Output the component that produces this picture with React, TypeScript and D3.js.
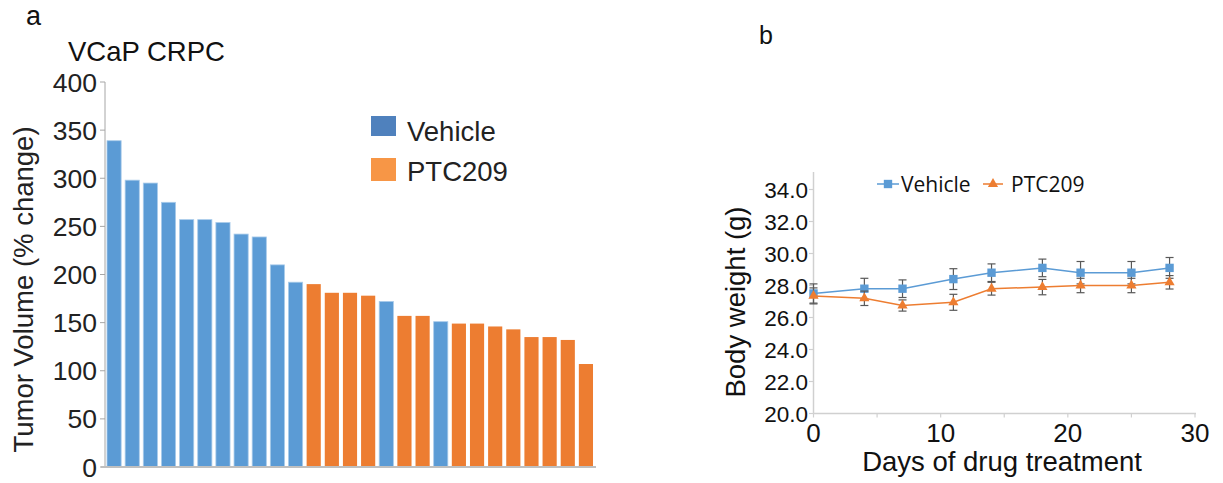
import * as d3 from 'd3'

// panel a: waterfall of tumour volume change, sorted
const tumorValues = [339, 298, 295, 275, 257, 257, 254, 242, 239, 210, 192, 190, 181, 181, 178, 172, 157, 157, 151, 149, 149, 146, 143, 135, 135, 132, 107]
const tumorGroups = ['V', 'V', 'V', 'V', 'V', 'V', 'V', 'V', 'V', 'V', 'V', 'P', 'P', 'P', 'P', 'V', 'P', 'P', 'V', 'P', 'P', 'P', 'P', 'P', 'P', 'P', 'P']
const tumorTicks = [0, 50, 100, 150, 200, 250, 300, 350, 400]

// panel b: body weight over days
const days = [0, 4, 7, 11, 14, 18, 21, 25, 28]
const vehicleWeight = [27.5, 27.8, 27.8, 28.4, 28.8, 29.1, 28.8, 28.8, 29.1]
const vehicleErr = [0.6, 0.65, 0.55, 0.65, 0.55, 0.55, 0.7, 0.7, 0.65]
const ptcWeight = [27.35, 27.2, 26.75, 26.95, 27.8, 27.9, 28.0, 28.0, 28.2]
const ptcErr = [0.5, 0.45, 0.35, 0.5, 0.4, 0.48, 0.45, 0.45, 0.42]
const weightTicks = [20, 22, 24, 26, 28, 30, 32, 34]
const dayTicks = [0, 10, 20, 30]
const dayMinor = [0, 5, 10, 15, 20, 25, 30]

const BLUE = '#5B9BD5'
const ORANGE = '#ED7D31'
const ARIAL = 'Liberation Sans, Arial, sans-serif'

function Waterfall() {
  const ids = tumorValues.map((_, i) => String(i))
  const x = d3.scaleBand().domain(ids).range([105, 595]).paddingInner(0.22).paddingOuter(0.11)
  const y = d3.scaleLinear().domain([0, 400]).range([467, 82])

  return (
    <g fontFamily={ARIAL}>
      <text x={26} y={25} fontSize={27} fill="#111">a</text>
      <text x={68} y={61} fontSize={27.5} fill="#111">VCaP CRPC</text>

      {tumorValues.map((v, i) => (
        <rect key={i} x={x(String(i))} y={y(v)} width={x.bandwidth()} height={y(0) - y(v)}
          fill={tumorGroups[i] === 'V' ? BLUE : ORANGE}
          stroke={tumorGroups[i] === 'V' ? '#A9CBEA' : 'none'} strokeWidth={0.8} />
      ))}

      {/* y axis */}
      <line x1={105} x2={105} y1={y(400)} y2={y(0)} stroke="#A6A6A6" strokeWidth={1} />
      {tumorTicks.map(t => (
        <g key={t}>
          <line x1={100} x2={105} y1={y(t)} y2={y(t)} stroke="#A6A6A6" />
          <text x={97} y={y(t)} dy="0.36em" textAnchor="end" fontSize={26.5} fill="#222">{t}</text>
        </g>
      ))}
      <line x1={101} x2={596} y1={y(0)} y2={y(0)} stroke="#BFBFBF" strokeWidth={2} />

      <text transform={`translate(33,${(y(0) + y(400)) / 2 + 15}) rotate(-90)`} textAnchor="middle"
        fontSize={27.5} fill="#222">Tumor Volume (% change)</text>

      {/* legend */}
      <rect x={371} y={116} width={25} height={20} fill="#4F81BD" />
      <text x={407} y={141} fontSize={27.5} fill="#222">Vehicle</text>
      <rect x={371} y={158} width={25} height={23} fill="#F79646" />
      <text x={407} y={181} fontSize={27.5} fill="#222">PTC209</text>
    </g>
  )
}

function WeightChart() {
  const x = d3.scaleLinear().domain([0, 30]).range([813.5, 1195])
  const y = d3.scaleLinear().domain([20, 35]).range([413.5, 173.5])
  const line = d3.line<number>().x((_, i) => x(days[i]))

  const series = [
    { name: 'Vehicle', vals: vehicleWeight, err: vehicleErr, color: BLUE, marker: 'square' },
    { name: 'PTC209', vals: ptcWeight, err: ptcErr, color: ORANGE, marker: 'triangle' },
  ]
  const sq = d3.symbol(d3.symbolSquare, 70)()
  const tri = d3.symbol(d3.symbolTriangle, 45)()

  return (
    <g fontFamily={ARIAL}>
      <text x={759} y={44} fontSize={25} fill="#111">b</text>

      <line x1={813.5} x2={813.5} y1={172} y2={y(20)} stroke="#D0D0D0" strokeWidth={1.5} />
      {weightTicks.map(t => (
        <g key={t}>
          <line x1={809} x2={813.5} y1={y(t)} y2={y(t)} stroke="#D0D0D0" strokeWidth={1.2} />
          <text x={808} y={y(t)} dy="0.36em" textAnchor="end" fontSize={22.5} fill="#111">{t.toFixed(1)}</text>
        </g>
      ))}
      <line x1={813.5} x2={1196} y1={y(20)} y2={y(20)} stroke="#D0D0D0" strokeWidth={1.5} />
      {dayMinor.map(t => (
        <line key={t} x1={x(t)} x2={x(t)} y1={y(20)} y2={y(20) + 4} stroke="#D0D0D0" strokeWidth={1.2} />
      ))}
      {dayTicks.map(t => (
        <text key={t} x={x(t)} y={442} textAnchor="middle" fontSize={26} fill="#111">{t}</text>
      ))}

      <text x={1002} y={471} textAnchor="middle" fontSize={27.5} fill="#111">Days of drug treatment</text>
      <text transform={`translate(745,302) rotate(-90)`} textAnchor="middle" fontSize={27.5} fill="#111">Body weight (g)</text>

      {series.map(s => (
        <g key={s.name}>
          <path d={line.y(d => y(d))(s.vals) || ''} fill="none" stroke={s.color} strokeWidth={1.5} />
          {s.vals.map((v, i) => (
            <g key={i} stroke="#595959" strokeWidth={1.2}>
              <line x1={x(days[i])} x2={x(days[i])} y1={y(v - s.err[i])} y2={y(v + s.err[i])} />
              <line x1={x(days[i]) - 4} x2={x(days[i]) + 4} y1={y(v - s.err[i])} y2={y(v - s.err[i])} />
              <line x1={x(days[i]) - 4} x2={x(days[i]) + 4} y1={y(v + s.err[i])} y2={y(v + s.err[i])} />
            </g>
          ))}
          {s.vals.map((v, i) => (
            <path key={'m' + i} d={s.marker === 'square' ? sq : tri}
              transform={`translate(${x(days[i])},${y(v)})`} fill={s.color} />
          ))}
        </g>
      ))}

      {/* legend */}
      <g fontFamily="Open Sans, sans-serif" fontSize={21} fill="#111">
        <line x1={877} x2={899} y1={184} y2={184} stroke={BLUE} strokeWidth={1.5} />
        <path d={sq} transform="translate(888,184)" fill={BLUE} />
        <text x={901} y={192}>Vehicle</text>
        <line x1={983} x2={1003} y1={184} y2={184} stroke={ORANGE} strokeWidth={1.5} />
        <path d={tri} transform="translate(993,184)" fill={ORANGE} />
        <text x={1011} y={192}>PTC209</text>
      </g>
    </g>
  )
}

export default function App() {
  return (
    <svg width={1223} height={483} style={{ position: 'absolute', left: 0, top: 0, background: '#fff' }}>
      <Waterfall />
      <WeightChart />
    </svg>
  )
}
